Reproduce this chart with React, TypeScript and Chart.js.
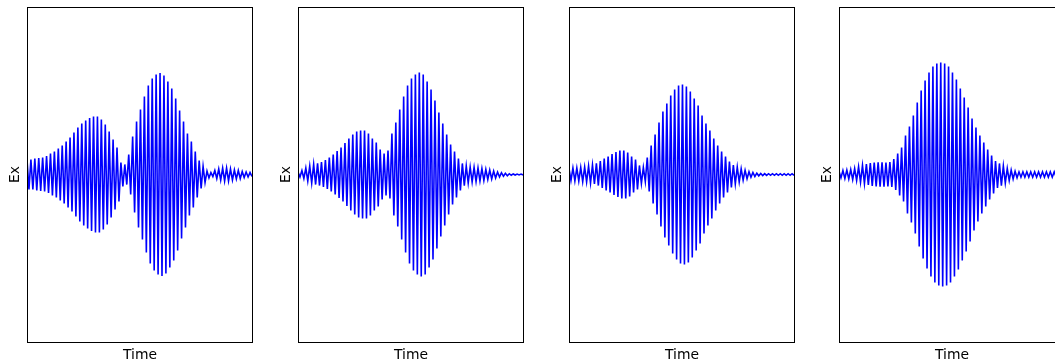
import { useEffect, useRef } from "react";
import { Chart, registerables } from "chart.js";

Chart.register(...registerables);

// Peak field amplitude of each carrier cycle, one list per run.
const ex1Peaks = [
  0.134, 0.134, 0.143, 0.148, 0.152, 0.166, 0.188, 0.206, 0.233, 0.26,
  0.296, 0.331, 0.376, 0.421, 0.457, 0.484, 0.506, 0.519, 0.519, 0.493,
  0.448, 0.385, 0.313, 0.242, 0.107, 0.09, 0.179, 0.34, 0.475, 0.582,
  0.698, 0.797, 0.86, 0.896, 0.909, 0.887, 0.833, 0.77, 0.681, 0.573,
  0.475, 0.367, 0.296, 0.206, 0.125, 0.072, 0.031, 0.018, 0.036, 0.049,
  0.058, 0.058, 0.049, 0.04, 0.036, 0.027, 0.022, 0.018,
];

const ex2Peaks = [
  0.022, 0.036, 0.058, 0.076, 0.09, 0.099, 0.112, 0.13, 0.152, 0.179,
  0.21, 0.242, 0.282, 0.322, 0.358, 0.385, 0.394, 0.394, 0.367, 0.322,
  0.287, 0.224, 0.188, 0.215, 0.367, 0.466, 0.582, 0.698, 0.797, 0.86,
  0.896, 0.913, 0.896, 0.833, 0.761, 0.663, 0.555, 0.457, 0.358, 0.269,
  0.206, 0.143, 0.099, 0.076, 0.067, 0.063, 0.058, 0.054, 0.045, 0.04,
  0.031, 0.022, 0.016, 0.011, 0.007, 0.005, 0.004, 0.004,
];

const ex3Peaks = [
  0.054, 0.058, 0.058, 0.063, 0.067, 0.076, 0.085, 0.099, 0.121, 0.143,
  0.161, 0.184, 0.201, 0.215, 0.215, 0.197, 0.161, 0.134, 0.081, 0.063,
  0.152, 0.26, 0.358, 0.466, 0.564, 0.636, 0.707, 0.761, 0.797, 0.806,
  0.788, 0.743, 0.681, 0.618, 0.528, 0.457, 0.394, 0.322, 0.26, 0.206,
  0.161, 0.116, 0.085, 0.067, 0.051, 0.038, 0.025, 0.018, 0.012, 0.009,
  0.008, 0.007, 0.007, 0.007, 0.007, 0.007, 0.007, 0.007,
];

const ex4Peaks = [
  0.03, 0.036, 0.04, 0.045, 0.054, 0.069, 0.081, 0.094, 0.103, 0.107,
  0.11, 0.11, 0.107, 0.112, 0.139, 0.188, 0.242, 0.349, 0.43, 0.528,
  0.645, 0.752, 0.842, 0.913, 0.967, 0.994, 1.003, 0.994, 0.967, 0.913,
  0.851, 0.77, 0.69, 0.6, 0.501, 0.421, 0.349, 0.287, 0.224, 0.17,
  0.121, 0.099, 0.076, 0.054, 0.04, 0.029, 0.024, 0.024, 0.024, 0.024,
  0.024, 0.024, 0.024, 0.024, 0.024, 0.024, 0.024, 0.024,
];

const panels = [ex1Peaks, ex2Peaks, ex3Peaks, ex4Peaks];
const panelLefts = [27, 298, 569, 839];

const yLabel = "Ex";
const xLabel = "Time";
const yLimit = 1.5;

const FONT = "DejaVu Sans, sans-serif";
const FONT_SIZE = 13.9;

// Each carrier cycle contributes a positive and a negative extremum.
function toExtrema(peaks: number[]) {
  const pts: { x: number; y: number }[] = [];
  peaks.forEach((a, k) => {
    pts.push({ x: k + 0.25, y: a });
    pts.push({ x: k + 0.75, y: -a });
  });
  return pts;
}

const framePlugin = {
  id: "frameAndTitles",
  afterDraw(chart: any) {
    const { ctx, chartArea } = chart;
    const { left, top, right, bottom } = chartArea;
    ctx.save();
    ctx.strokeStyle = "#000";
    ctx.lineWidth = 1;
    ctx.strokeRect(left + 0.5, top + 0.5, right - left, bottom - top);

    ctx.fillStyle = "#000";
    ctx.font = `${FONT_SIZE}px ${FONT}`;
    ctx.textAlign = "center";
    ctx.textBaseline = "alphabetic";
    ctx.fillText(xLabel, (left + right) / 2 + 0.5, 359);

    ctx.translate(left - 8, (top + bottom) / 2);
    ctx.rotate(-Math.PI / 2);
    ctx.fillText(yLabel, 0, 0);
    ctx.restore();
  },
};

function Panel({ peaks, frameLeft }: { peaks: number[]; frameLeft: number }) {
  const ref = useRef<HTMLCanvasElement | null>(null);

  useEffect(() => {
    if (!ref.current) return;
    const chart = new Chart(ref.current, {
      type: "line",
      data: {
        datasets: [
          {
            data: toExtrema(peaks),
            borderColor: "#0000ff",
            borderWidth: 1.6,
            pointRadius: 0,
            tension: 0,
            fill: false,
          },
        ],
      },
      options: {
        responsive: false,
        animation: false,
        devicePixelRatio: 1,
        layout: { padding: { left: 27, top: 7, right: 19, bottom: 20 } },
        plugins: {
          legend: { display: false },
          tooltip: { enabled: false },
        },
        scales: {
          x: {
            type: "linear",
            display: false,
            min: 0.25,
            max: peaks.length - 0.25,
          },
          y: { display: false, min: -yLimit, max: yLimit },
        },
      },
      plugins: [framePlugin],
    });
    return () => chart.destroy();
  }, [peaks]);

  return (
    <canvas
      ref={ref}
      width={271}
      height={362}
      style={{
        position: "absolute",
        left: frameLeft - 27,
        top: 0,
        width: 271,
        height: 362,
        display: "block",
      }}
    />
  );
}

export default function App() {
  return (
    <div
      style={{
        position: "fixed",
        left: 0,
        top: 0,
        width: 1055,
        height: 362,
        overflow: "hidden",
        background: "#fff",
      }}
    >
      {panels.map((p, i) => (
        <Panel key={i} peaks={p} frameLeft={panelLefts[i]} />
      ))}
    </div>
  );
}
